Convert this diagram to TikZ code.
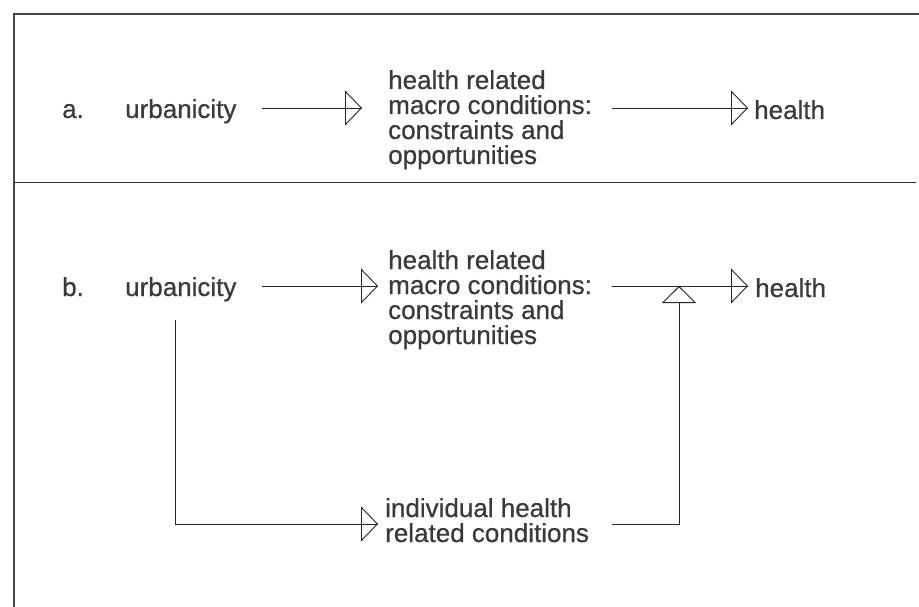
\documentclass[tikz,border=0pt]{standalone}
\usepackage{fontspec}
\setmainfont{Liberation Sans}
\newfontfamily\diafont{Liberation Sans}[FakeBold=0.6]
\usetikzlibrary{arrows.meta}
\definecolor{ink}{HTML}{3A3A3A}
\definecolor{framec}{HTML}{454545}
\begin{document}
\begin{tikzpicture}[x=1pt,y=-1pt,
  txt/.style={anchor=base west,inner sep=0pt,text=ink,font=\diafont\fontsize{26}{25}\selectfont,align=left},
  conn/.style={draw=black!85,line width=0.9pt},
  flow/.style={conn,-{Triangle[open,length=17pt,width=35pt,line width=0.9pt]},postaction={draw,arrows=-}},
  rise/.style={conn,-{Triangle[open,length=17pt,width=34pt,line width=0.9pt]}},
  frameline/.style={draw=framec,line width=2pt}]
\useasboundingbox (0,0) rectangle (919,607);
% frame and separator
\coordinate (ftl) at (14,14);
\coordinate (ftr) at (919,14);
\coordinate (fbl) at (14,607);
\coordinate (sl) at (14,183);
\coordinate (sr) at (916,183);
\draw[frameline] (fbl) -- (ftl) -- (ftr);
\draw[draw=black!80,line width=1pt] (sl) -- (sr);
% part a (multi-line nodes are placed by the baseline of their last line)
\node[txt] (la) at (62,118) {a.};
\node[txt] (ua) at (125,118) {urbanicity};
\node[txt] (ma) at (388,164) {health related\\macro conditions:\\constraints and\\opportunities};
\node[txt] (ha) at (754,119) {health};
\coordinate (a1s) at (262,108);
\coordinate (a1e) at (362,108);
\coordinate (a2s) at (612,108);
\coordinate (a2e) at (748,108);
\draw[flow] (a1s) -- (a1e);
\draw[flow] (a2s) -- (a2e);
% part b
\node[txt] (lb) at (62,296) {b.};
\node[txt] (ub) at (125,296) {urbanicity};
\node[txt] (mb) at (388,344) {health related\\macro conditions:\\constraints and\\opportunities};
\node[txt] (hb) at (755,297) {health};
\node[txt] (ib) at (385,542) {individual health\\related conditions};
\coordinate (b1s) at (262,286);
\coordinate (b1e) at (378,286);
\coordinate (b2s) at (612,286);
\coordinate (b2e) at (748,286);
\coordinate (bj) at (679,286);
\coordinate (dtop) at (175,320);
\coordinate (dbot) at (175,524);
\coordinate (ie) at (378,524);
\coordinate (rs) at (612,524);
\coordinate (rc) at (679,524);
\draw[flow] (b1s) -- (b1e);
\draw[flow] (b2s) -- (b2e);
\draw[conn] (dtop) -- (dbot);
\draw[flow] (dbot) -- (ie);
\draw[rise] (rs) -- (rc) -- (bj);
\end{tikzpicture}
\end{document}
